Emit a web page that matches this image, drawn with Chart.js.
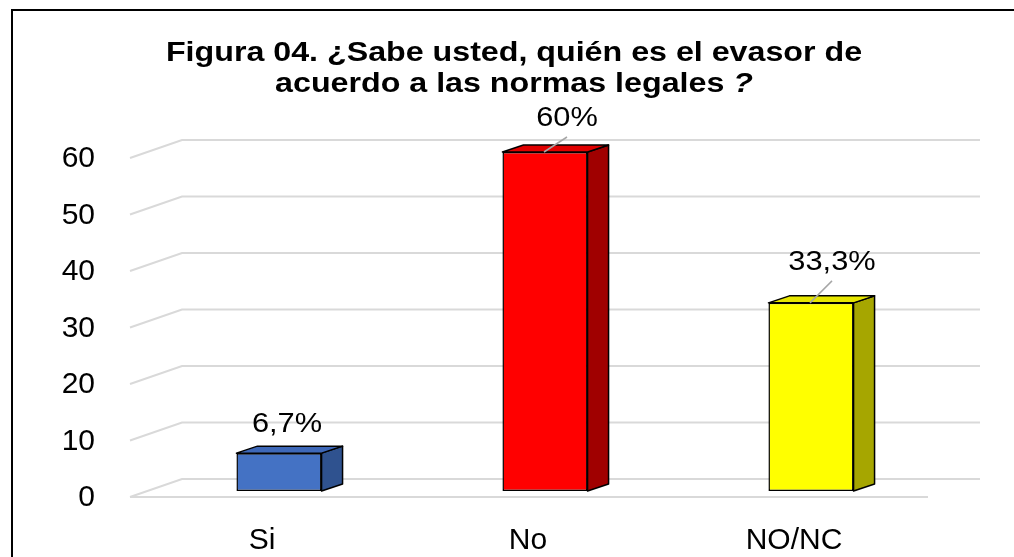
<!DOCTYPE html>
<html>
<head>
<meta charset="utf-8">
<script src="https://cdn.jsdelivr.net/npm/chart.js@4.4.0/dist/chart.umd.min.js"></script>
<style>
html, body { margin: 0; padding: 0; background: #fff; }
#wrap { position: relative; width: 1014px; height: 557px; overflow: hidden; }
#frame { position: absolute; left: 11px; top: 9px; right: -10px; bottom: -10px;
         border-left: 2px solid #000; border-top: 2px solid #000; pointer-events: none; }
canvas { position: absolute; left: 0; top: 0; }
</style>
</head>
<body>
<div id="wrap">
  <canvas id="chart" width="1014" height="557"></canvas>
  <div id="frame"></div>
</div>
<script>
// data
const categories = ['Si', 'No', 'NO/NC'];
const values = [6.7, 60, 33.3];
const valueLabels = ['6,7%', '60%', '33,3%'];
const yTicks = [0, 10, 20, 30, 40, 50, 60];
const titleLine1 = 'Figura 04. ¿Sabe usted, quién es el evasor de';
const titleLine2 = 'acuerdo a las normas legales';

// look
const frontColors = ['#4472C4', '#FF0000', '#FFFF00'];
const sideColors = ['#2F528F', '#A00000', '#A6A600'];
const topColors = ['#3E68B8', '#E00000', '#E6E600'];
const labelShift = [[8, -29, false], [22, -34, true], [21, -41, true]];
const FONT = '"Liberation Sans", Arial, sans-serif';
const depth = { dx: 21, dy: -7 };
const wall = { frontX: -16, frontY: 6, backX: 36, backY: -12 };
const textStretch = 1.15;   // the original text is drawn a bit wide

const gridPlugin = {
    id: 'grid3d',
    beforeDatasetsDraw(chart) {
        const { ctx, chartArea } = chart;
        const y = chart.scales.y;
        ctx.save();
        ctx.strokeStyle = '#D9D9D9';
        ctx.lineWidth = 2;
        yTicks.forEach(v => {
            const py = y.getPixelForValue(v);
            ctx.beginPath();
            ctx.moveTo(chartArea.left + wall.frontX, py + wall.frontY);
            ctx.lineTo(chartArea.left + wall.backX, py + wall.backY);
            ctx.lineTo(chartArea.right + wall.backX, py + wall.backY);
            ctx.stroke();
            if (v === yTicks[0]) {
                ctx.beginPath();
                ctx.moveTo(chartArea.left + wall.frontX, py + wall.frontY);
                ctx.lineTo(chartArea.right + wall.frontX, py + wall.frontY);
                ctx.stroke();
            }
        });
        ctx.restore();
    },
    afterDatasetsDraw(chart) {
        const { ctx } = chart;
        const meta = chart.getDatasetMeta(0);
        ctx.save();
        ctx.lineWidth = 1.5;
        ctx.strokeStyle = '#000';
        ctx.lineJoin = 'round';
        meta.data.forEach((bar, i) => {
            const { x, y, base, width } = bar.getProps(['x', 'y', 'base', 'width'], true);
            const l = x - width / 2, r = x + width / 2;
            // side
            ctx.beginPath();
            ctx.moveTo(r, y);
            ctx.lineTo(r + depth.dx, y + depth.dy);
            ctx.lineTo(r + depth.dx, base + depth.dy);
            ctx.lineTo(r, base);
            ctx.closePath();
            ctx.fillStyle = sideColors[i];
            ctx.fill();
            ctx.stroke();
            // top
            ctx.beginPath();
            ctx.moveTo(l, y);
            ctx.lineTo(l + depth.dx, y + depth.dy);
            ctx.lineTo(r + depth.dx, y + depth.dy);
            ctx.lineTo(r, y);
            ctx.closePath();
            ctx.fillStyle = topColors[i];
            ctx.fill();
            ctx.stroke();
        });
        // value labels
        meta.data.forEach((bar, i) => {
            const { x, y } = bar.getProps(['x', 'y'], true);
            const [sx, sy, leader] = labelShift[i];
            const lx = x + sx, ly = y + sy;
            if (leader) {
                ctx.beginPath();
                ctx.strokeStyle = '#A6A6A6';
                ctx.lineWidth = 1.5;
                ctx.moveTo(lx, ly + 19);
                ctx.lineTo(x - 1, y);
                ctx.stroke();
            }
            ctx.save();
            ctx.translate(lx, ly);
            ctx.scale(1.1, 1);
            ctx.font = '28px ' + FONT;
            ctx.fillStyle = '#000';
            ctx.textAlign = 'center';
            ctx.textBaseline = 'middle';
            ctx.fillText(valueLabels[i], 0, 0);
            ctx.restore();
        });
        ctx.restore();
    },
    afterDraw(chart) {
        const { ctx } = chart;
        const bold = 'bold 28px ' + FONT;
        const boldItalic = 'italic bold 28px ' + FONT;
        ctx.save();
        ctx.translate(514, 0);
        ctx.scale(textStretch, 1);
        ctx.fillStyle = '#000';
        ctx.textBaseline = 'alphabetic';
        ctx.textAlign = 'center';
        ctx.font = bold;
        ctx.fillText(titleLine1, 0, 61);
        // second line ends with an italic question mark
        const w1 = ctx.measureText(titleLine2 + ' ').width;
        ctx.font = boldItalic;
        const w2 = ctx.measureText('?').width;
        const start = -(w1 + w2) / 2;
        ctx.textAlign = 'left';
        ctx.font = bold;
        ctx.fillText(titleLine2 + ' ', start, 92);
        ctx.font = boldItalic;
        ctx.fillText('?', start + w1, 92);
        ctx.restore();
    }
};

new Chart(document.getElementById('chart'), {
    type: 'bar',
    data: {
        labels: categories,
        datasets: [{
            data: values,
            backgroundColor: frontColors,
            borderColor: '#000',
            borderWidth: 1.5,
            borderSkipped: false,
            categoryPercentage: 1,
            barPercentage: 0.32
        }]
    },
    options: {
        responsive: false,
        animation: false,
        layout: { padding: { top: 152, left: 16, right: 70, bottom: 0 } },
        plugins: {
            legend: { display: false },
            title: { display: false },
            tooltip: { enabled: false }
        },
        scales: {
            x: {
                grid: { display: false },
                border: { display: false },
                ticks: {
                    color: '#000',
                    font: { family: FONT, size: 30 },
                    padding: 24,
                    labelOffset: -17,
                    maxRotation: 0,
                    autoSkip: false
                },
                afterFit(scale) { scale.height = 66; }
            },
            y: {
                min: 0,
                max: 60,
                grid: { display: false },
                border: { display: false },
                ticks: {
                    stepSize: 10,
                    color: '#000',
                    font: { family: FONT, size: 30 },
                    padding: 43,
                    labelOffset: 7
                },
                afterFit(scale) { scale.width = 130; }
            }
        }
    },
    plugins: [gridPlugin]
});
</script>
</body>
</html>
